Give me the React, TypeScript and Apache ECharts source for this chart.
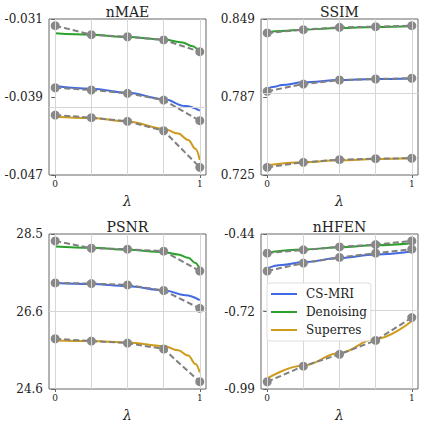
import React, { useEffect, useRef } from "react";
import * as echarts from "echarts";

const lambdas = [0, 0.25, 0.5, 0.75, 1];
const xTickValues = [0, 1];
const xGridValues = [0, 0.25, 0.5, 0.75, 1];
const methods = ["CS-MRI", "Denoising", "Superres"];
const colors = ["#4169e1", "#2ca02c", "#cf9b1a"];
const titles = ["nMAE", "SSIM", "PSNR", "nHFEN"];

// nMAE
const nmaeTicks = [-0.047, -0.039, -0.031];
const nmaeTickLabels = ["-0.047", "-0.039", "-0.031"];
const nmaeCsMri = [-0.03805, -0.03828, -0.03862, -0.03931, -0.04143];
const nmaeDenoising = [-0.03169, -0.03261, -0.03282, -0.03315, -0.03435];
const nmaeSuperres = [-0.04085, -0.04112, -0.04149, -0.04246, -0.04621];
const nmaeFitCsMriX = [0, 0.25, 0.5, 0.75, 0.9, 1];
const nmaeFitCsMri = [-0.03787, -0.03815, -0.03856, -0.03921, -0.03992, -0.0404];
const nmaeFitDenoisingX = [0, 0.25, 0.5, 0.75, 0.88, 0.95, 1];
const nmaeFitDenoising = [-0.03247, -0.03262, -0.03285, -0.0331, -0.0334, -0.0338, -0.03445];
const nmaeFitSuperresX = [0, 0.25, 0.5, 0.75, 0.85, 0.92, 0.97, 1];
const nmaeFitSuperres = [-0.04102, -0.04115, -0.0415, -0.04225, -0.04275, -0.0434, -0.0443, -0.04546];

// SSIM
const ssimTicks = [0.725, 0.787, 0.849];
const ssimTickLabels = ["0.725", "0.787", "0.849"];
const ssimCsMri = [0.7915, 0.7973, 0.8005, 0.8013, 0.8019];
const ssimDenoising = [0.8379, 0.8405, 0.8424, 0.8429, 0.8437];
const ssimSuperres = [0.7311, 0.7351, 0.7372, 0.738, 0.7383];
const ssimFitCsMriX = [0, 0.05, 0.1, 0.25, 0.5, 0.75, 1];
const ssimFitCsMri = [0.7934, 0.7952, 0.7965, 0.7987, 0.8005, 0.8013, 0.8018];
const ssimFitDenoisingX = [0, 0.1, 0.25, 0.5, 0.75, 1];
const ssimFitDenoising = [0.8384, 0.8395, 0.8405, 0.8418, 0.8426, 0.8432];
const ssimFitSuperresX = [0, 0.25, 0.5, 0.75, 1];
const ssimFitSuperres = [0.7327, 0.7351, 0.7367, 0.7377, 0.7383];

// PSNR
const psnrTicks = [24.6, 26.55, 28.5];
const psnrTickLabels = ["24.6", "26.6", "28.5"];
const psnrCsMri = [27.269, 27.253, 27.219, 27.078, 26.629];
const psnrDenoising = [28.325, 28.142, 28.117, 28.068, 27.569];
const psnrSuperres = [25.864, 25.806, 25.756, 25.606, 24.783];
const psnrFitCsMriX = [0, 0.25, 0.5, 0.75, 0.9, 1];
const psnrFitCsMri = [27.269, 27.244, 27.186, 27.086, 26.962, 26.837];
const psnrFitDenoisingX = [0, 0.25, 0.5, 0.75, 0.85, 0.92, 0.97, 1];
const psnrFitDenoising = [28.184, 28.151, 28.101, 28.043, 27.985, 27.9, 27.77, 27.61];
const psnrFitSuperresX = [0, 0.25, 0.5, 0.75, 0.85, 0.92, 0.97, 1];
const psnrFitSuperres = [25.823, 25.806, 25.773, 25.681, 25.575, 25.44, 25.23, 25.016];

// nHFEN
const nhfenTicks = [-0.99, -0.715, -0.44];
const nhfenTickLabels = ["-0.99", "-0.72", "-0.44"];
const nhfenCsMri = [-0.5713, -0.5432, -0.5233, -0.508, -0.494];
const nhfenDenoising = [-0.508, -0.4963, -0.4857, -0.4775, -0.4646];
const nhfenSuperres = [-0.9642, -0.909, -0.8669, -0.8176, -0.7367];
const nhfenFitCsMriX = [0, 0.1, 0.25, 0.5, 0.75, 1];
const nhfenFitCsMri = [-0.562, -0.5502, -0.5397, -0.5256, -0.5127, -0.5022];
const nhfenFitDenoisingX = [0, 0.25, 0.5, 0.75, 1];
const nhfenFitDenoising = [-0.5057, -0.4951, -0.4869, -0.4799, -0.4728];
const nhfenFitSuperresX = [0, 0.25, 0.5, 0.75, 1];
const nhfenFitSuperres = [-0.9525, -0.9067, -0.8622, -0.8117, -0.7484];

const panels = [
  {
    ticks: nmaeTicks, labels: nmaeTickLabels,
    measured: [nmaeCsMri, nmaeDenoising, nmaeSuperres],
    fitX: [nmaeFitCsMriX, nmaeFitDenoisingX, nmaeFitSuperresX],
    fit: [nmaeFitCsMri, nmaeFitDenoising, nmaeFitSuperres],
  },
  {
    ticks: ssimTicks, labels: ssimTickLabels,
    measured: [ssimCsMri, ssimDenoising, ssimSuperres],
    fitX: [ssimFitCsMriX, ssimFitDenoisingX, ssimFitSuperresX],
    fit: [ssimFitCsMri, ssimFitDenoising, ssimFitSuperres],
  },
  {
    ticks: psnrTicks, labels: psnrTickLabels,
    measured: [psnrCsMri, psnrDenoising, psnrSuperres],
    fitX: [psnrFitCsMriX, psnrFitDenoisingX, psnrFitSuperresX],
    fit: [psnrFitCsMri, psnrFitDenoising, psnrFitSuperres],
  },
  {
    ticks: nhfenTicks, labels: nhfenTickLabels,
    measured: [nhfenCsMri, nhfenDenoising, nhfenSuperres],
    fitX: [nhfenFitCsMriX, nhfenFitDenoisingX, nhfenFitSuperresX],
    fit: [nhfenFitCsMri, nhfenFitDenoising, nhfenFitSuperres],
  },
];

const FONT = "DejaVu Serif";

export default function App() {
  const ref = useRef<HTMLDivElement>(null);
  useEffect(() => {
    if (!ref.current) return;
    const chart = echarts.init(ref.current, null, { renderer: "svg" });
    const lefts = [49, 261, 49, 261];
    const tops = [19, 19, 234, 234];
    const W = 157;
    const H = 156;

    const grid: any[] = [];
    const xAxis: any[] = [];
    const yAxis: any[] = [];
    const series: any[] = [];
    const graphic: any[] = [];

    panels.forEach((p, i) => {
      grid.push({
        left: lefts[i], top: tops[i], width: W, height: H,
        show: true, borderColor: "#666", borderWidth: 1, backgroundColor: "transparent",
      });
      xAxis.push({
        type: "value", gridIndex: i, min: -0.043, max: 1.043,
        name: "λ", nameLocation: "middle", nameGap: 19,
        nameTextStyle: { fontFamily: FONT, fontSize: 14, fontStyle: "italic", color: "#222" },
        axisLine: { show: false },
        axisTick: { show: true, length: 3, lineStyle: { color: "#666" }, customValues: xTickValues },
        axisLabel: {
          show: true, fontFamily: FONT, fontSize: 9, color: "#222", margin: 4,
          customValues: xTickValues,
          formatter: (v: number) => String(Math.round(v)),
        },
        splitLine: { show: false },
      });
      yAxis.push({
        type: "value", gridIndex: i, min: p.ticks[0], max: p.ticks[2],
        axisLine: { show: false },
        axisTick: { show: true, length: 4, lineStyle: { color: "#666" }, customValues: p.ticks },
        axisLabel: {
          show: true, fontFamily: FONT, fontSize: 12, color: "#222", margin: 6,
          customValues: p.ticks,
          formatter: (v: number) => {
            let best = 0;
            p.ticks.forEach((t, k) => {
              if (Math.abs(t - v) < Math.abs(p.ticks[best] - v)) best = k;
            });
            return p.labels[best];
          },
        },
        splitLine: { show: false },
      });
      series.push({
        type: "line", xAxisIndex: i, yAxisIndex: i, data: [], silent: true, z: 0,
        markLine: {
          silent: true, symbol: "none", animation: false, label: { show: false },
          lineStyle: { color: "#d6d6d6", width: 1, type: "solid" },
          data: [
            ...xGridValues.map((x) => ({ xAxis: x })),
            { yAxis: p.ticks[1] },
          ],
        },
      });
      methods.forEach((m, k) => {
        series.push({
          name: m, type: "line", xAxisIndex: i, yAxisIndex: i, z: 2,
          data: p.fitX[k].map((x, j) => [x, p.fit[k][j]]),
          smooth: 0.4, smoothMonotone: "x", symbol: "none",
          lineStyle: { color: colors[k], width: 2 },
          itemStyle: { color: colors[k] },
        });
      });
      methods.forEach((m, k) => {
        series.push({
          name: m + " measured", type: "line", xAxisIndex: i, yAxisIndex: i, z: 3,
          data: lambdas.map((x, j) => [x, p.measured[k][j]]),
          symbol: "circle", symbolSize: 9,
          lineStyle: { color: "#808080", width: 2, type: [6, 3] },
          itemStyle: { color: "#888888" },
        });
      });
      graphic.push({
        type: "text", x: lefts[i] + W / 2, y: tops[i] - 7,
        style: {
          text: titles[i], font: `14px "${FONT}"`, fill: "#222",
          textAlign: "center", textVerticalAlign: "middle",
        },
      });
    });

    chart.setOption({
      animation: false,
      backgroundColor: "#ffffff",
      grid, xAxis, yAxis, series, graphic,
      legend: {
        z: 20,
        data: methods.map((m) => ({ name: m, icon: "rect" })),
        orient: "vertical",
        left: 267, top: 283,
        padding: [4, 4, 4, 4],
        itemWidth: 26, itemHeight: 2, itemGap: 4,
        backgroundColor: "rgba(255,255,255,0.9)",
        borderColor: "#dddddd", borderWidth: 1, borderRadius: 3,
        textStyle: { fontFamily: FONT, fontSize: 12, color: "#222", padding: [0, 0, 0, 4], lineHeight: 14 },
      },
    });
    return () => chart.dispose();
  }, []);
  return (
    <div
      ref={ref}
      style={{ position: "absolute", left: 0, top: 0, width: 423, height: 423 }}
    />
  );
}
